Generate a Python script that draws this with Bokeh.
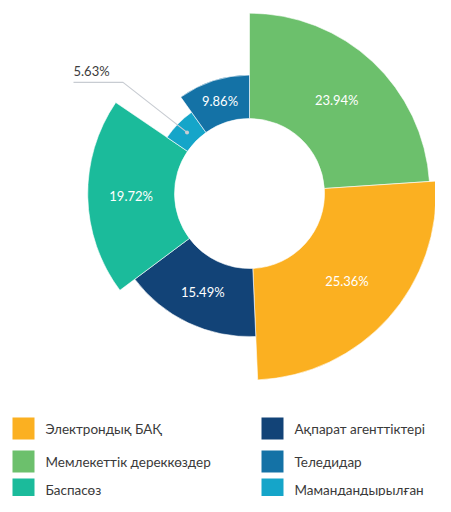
import math
from bokeh.plotting import figure
from bokeh.models import ColumnDataSource, Range1d
from bokeh.core.properties import value
from bokeh.embed import file_html
from bokeh.resources import INLINE

# ---- data (clockwise from 12 o'clock) ----
categories = ["Мемлекеттік дереккөздер", "Электрондық БАҚ", "Ақпарат агенттіктері",
              "Баспасөз", "Мамандандырылған", "Теледидар"]
shares = [23.94, 25.36, 15.49, 19.72, 5.63, 9.86]
colors = ["#6CC06C", "#FBB021", "#124377", "#1BBB9B", "#15A5C9", "#1472A6"]
legend_order = ["Электрондық БАҚ", "Мемлекеттік дереккөздер", "Баспасөз",
                "Ақпарат агенттіктері", "Теледидар", "Мамандандырылған"]

# ---- layout (screen-like coordinates: x = px, y = 512 - px) ----
W, H = 435, 496
CX, CY = 249, 512 - 193
R_IN = 75
K = 4.4  # px per percent of radius growth
FONT = "Lato"

p = figure(width=W, height=H, output_backend="svg", toolbar_location=None,
           x_range=Range1d(0, W), y_range=Range1d(512 - H, 512),
           min_border=0)
p.axis.visible = False
p.grid.visible = False
p.outline_line_color = None
p.background_fill_color = "white"

total = sum(shares)
starts, ends, outers, mids_a, mids_r = [], [], [], [], []
cum = 0.0
for s in shares:
    a0 = math.pi / 2 - 2 * math.pi * cum / total
    cum += s
    a1 = math.pi / 2 - 2 * math.pi * cum / total
    starts.append(a0)
    ends.append(a1)
    ro = R_IN + K * s
    outers.append(ro)
    mids_a.append((a0 + a1) / 2)
    mids_r.append((R_IN + ro) / 2)

src = ColumnDataSource(dict(start=starts, end=ends, outer=outers, color=colors,
                            cat=categories))
p.annular_wedge(x=CX, y=CY, inner_radius=R_IN, outer_radius="outer",
                start_angle="start", end_angle="end", direction="clock",
                fill_color="color", line_color="white", line_width=0.6, source=src)

# inside labels
lx, ly, lt = [], [], []
small = None
for i, s in enumerate(shares):
    if s < 8:
        small = i
        continue
    lx.append(CX + mids_r[i] * math.cos(mids_a[i]))
    ly.append(CY + mids_r[i] * math.sin(mids_a[i]))
    lt.append(f"{s:.2f}%")
p.text(x=lx, y=ly, text=lt, text_color="white", text_font=value(FONT),
       text_font_size="13px", text_align="center", text_baseline="middle")

# outside label for the small slice
if small is not None:
    dx = CX + mids_r[small] * math.cos(mids_a[small])
    dy = CY + mids_r[small] * math.sin(mids_a[small])
    ex, ey = dx - 64, dy + 50
    tx = 73
    p.line(x=[dx, ex, tx], y=[dy, ey, ey], line_color="#C8CCD2", line_width=1.2)
    p.scatter(x=[dx], y=[dy], size=4, fill_color="#C8CCD2", line_color=None)
    p.text(x=[tx], y=[ey + 11], text=[f"{shares[small]:.2f}%"], text_color="#3C3C3C",
           text_font=value(FONT), text_font_size="13px", text_align="left",
           text_baseline="middle")

# legend
col_sq_x = [12, 261]
col_tx_x = [45, 294]
row_y = [428, 461, 489]
sq_x, sq_y, sq_c, t_x, t_y, t_t = [], [], [], [], [], []
for j, name in enumerate(legend_order):
    c, r = divmod(j, 3)
    idx = categories.index(name)
    sq_x.append(col_sq_x[c] + 11)
    sq_y.append(512 - row_y[r])
    sq_c.append(colors[idx])
    t_x.append(col_tx_x[c])
    t_y.append(512 - row_y[r])
    t_t.append(name)
p.rect(x=sq_x, y=sq_y, width=22, height=22, fill_color=sq_c, line_color=None)
p.text(x=t_x, y=t_y, text=t_t, text_color="#3A3A3A", text_font=value(FONT),
       text_font_size="13.5px", text_align="left", text_baseline="middle")

open("out.html", "w").write(file_html(p, INLINE))
